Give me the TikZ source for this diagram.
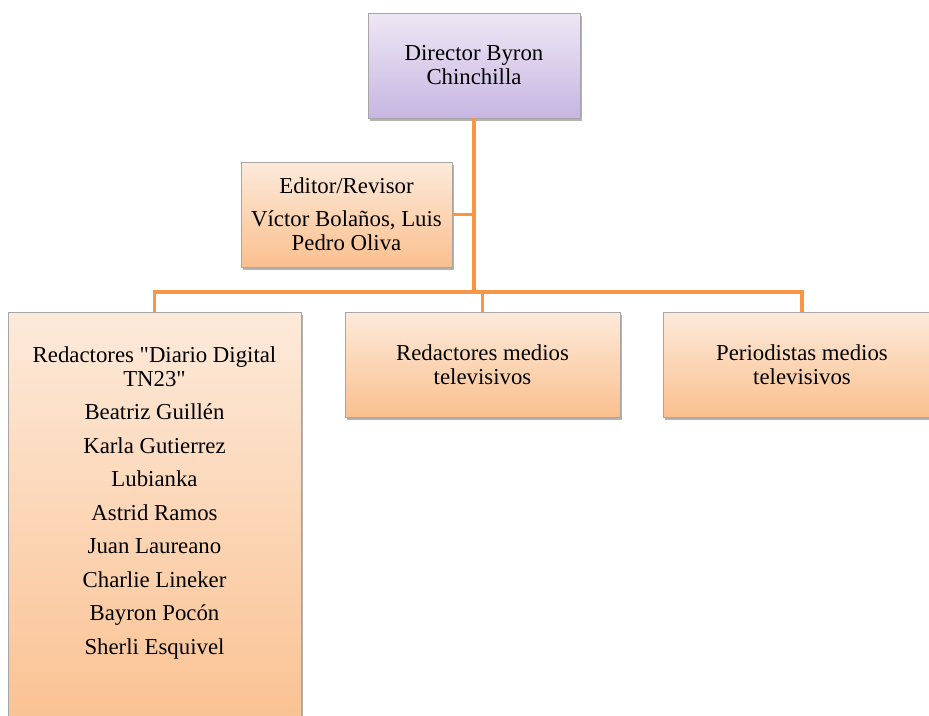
\documentclass[tikz,border=0pt]{standalone}
\usepackage{fontspec}
\setmainfont{Liberation Serif}[Ligatures=TeXOff]
\usetikzlibrary{shadows}
\definecolor{lineor}{HTML}{F79646}
\definecolor{ortop}{HTML}{FDEADA}
\definecolor{orbot}{HTML}{FAC08F}
\definecolor{vtop}{HTML}{EEE7F5}
\definecolor{vbot}{HTML}{C7B6E2}
\definecolor{boxedge}{HTML}{A6A6A6}
\begin{document}
\begin{tikzpicture}[x=1pt,y=-1pt,
  box/.style={draw=boxedge, line width=0.9pt, top color=ortop, bottom color=orbot,
    drop shadow={shadow xshift=2pt, shadow yshift=-3pt, fill=black, opacity=0.3},
    inner sep=0pt, align=center, font=\fontsize{22.8}{24}\selectfont},
  vbox/.style={box, top color=vtop, bottom color=vbot},
  txt/.style={inner sep=0pt, align=center, font=\fontsize{22.8}{24}\selectfont},
  conn/.style={draw=lineor, line width=3.2pt, line join=miter}]
\useasboundingbox (0,0) rectangle (929,715);
\fill[white] (0,0) rectangle (929,715);

\coordinate (j) at (474,292);
\node[vbox, minimum width=212pt, minimum height=105pt] (dir) at (474,65.5) {Director Byron\\Chinchilla};
\node[box, minimum width=211pt, minimum height=105pt] (ed) at (346.5,214.5) {Editor/Revisor\\[9pt]Víctor Bolaños, Luis\\Pedro Oliva};
\node[box, minimum width=293pt, minimum height=430pt] (red) at (154.5,527) {};
\node[txt, anchor=north] (redtxt) at (154.5,346) {Redactores "Diario Digital\\TN23"\\[9.5pt]Beatriz Guillén\\[9.5pt]Karla Gutierrez\\[9.5pt]Lubianka\\[9.5pt]Astrid Ramos\\[9.5pt]Juan Laureano\\[9.5pt]Charlie Lineker\\[9.5pt]Bayron Pocón\\[9.5pt]Sherli Esquivel};
\node[box, minimum width=275pt, minimum height=105pt] (redm) at (482.5,364.5) {Redactores medios\\televisivos};
\node[box, minimum width=278pt, minimum height=105pt] (per) at (802,364.5) {Periodistas medios\\televisivos};

\draw[conn] (dir.south) -- (j);
\draw[conn] (ed.east) -- (ed.east -| j);
\draw[conn] (red.north) -- (red.north |- j) -- (per.north |- j) -- (per.north);
\draw[conn] (redm.north) -- (redm.north |- j);
\end{tikzpicture}
\end{document}
